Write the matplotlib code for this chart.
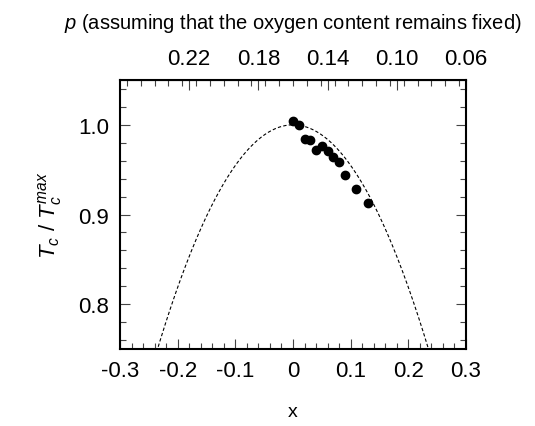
import numpy as np
import matplotlib
matplotlib.use("Agg")
from matplotlib import pyplot as plt
from matplotlib.ticker import MultipleLocator

plt.rcParams['font.family'] = ['Liberation Sans', 'DejaVu Sans']
plt.rcParams['mathtext.fontset'] = 'custom'
plt.rcParams['mathtext.it'] = 'Liberation Sans:italic'
plt.rcParams['mathtext.rm'] = 'Liberation Sans'

# measured points
x_data = [0.0, 0.01, 0.02, 0.03, 0.04, 0.05, 0.06, 0.07, 0.08, 0.09, 0.11, 0.13]
tc_data = [1.004, 1.000, 0.984, 0.983, 0.972, 0.976, 0.971, 0.964, 0.958, 0.944, 0.928, 0.913]

# dashed parabola Tc/Tcmax = 1 - a*x^2
curve_coef = 4.53

top_ticks = [0.22, 0.18, 0.14, 0.10, 0.06]
bottom_ticks = [-0.3, -0.2, -0.1, 0, 0.1, 0.2, 0.3]
bottom_labels = ['-0.3', '-0.2', '-0.1', '0', '0.1', '0.2', '0.3']
y_ticks = [0.8, 0.9, 1.0]


def x_to_p(x):
    return 0.16 - np.asarray(x) / 3.0


def p_to_x(p):
    return 3.0 * (0.16 - np.asarray(p))


fig = plt.figure(figsize=(5.35, 4.27), dpi=100)
ax = fig.add_axes([120 / 535, 1 - 350 / 427, 346 / 535, 269 / 427])

xs = np.linspace(-0.3, 0.3, 400)
ax.plot(xs, 1 - curve_coef * xs ** 2, 'k--', lw=0.8, dashes=(3, 2))
ax.plot(x_data, tc_data, 'o', color='black', ms=6)

ax.set_xlim(-0.3, 0.3)
ax.set_ylim(0.75, 1.05)
ax.set_xticks(bottom_ticks)
ax.set_xticklabels(bottom_labels)
ax.set_yticks(y_ticks)
ax.set_yticklabels(['0.8', '0.9', '1.0'])
ax.xaxis.set_minor_locator(MultipleLocator(0.02))
ax.yaxis.set_minor_locator(MultipleLocator(0.02))
ax.tick_params(which='both', direction='in', right=True, top=False, labelsize=16,
               width=0.8, color='#444444', pad=8)
ax.tick_params(which='major', length=7)
ax.tick_params(which='minor', length=4)
for s in ax.spines.values():
    s.set_linewidth(1.5)

ax.set_xlabel('x', fontsize=14, labelpad=16)
ax.set_ylabel(r'$T_c$ / $T_c^{max}$', fontsize=16, labelpad=10)

top = ax.secondary_xaxis('top', functions=(x_to_p, p_to_x))
top.set_xticks(top_ticks)
top.set_xticklabels(['0.22', '0.18', '0.14', '0.10', '0.06'])
top.xaxis.set_minor_locator(MultipleLocator(0.008))
top.tick_params(which='both', direction='in', labelsize=16, width=0.8,
                color='#444444', pad=8)
top.tick_params(which='major', length=7)
top.tick_params(which='minor', length=4)
top.set_xlabel(r'$p$ (assuming that the oxygen content remains fixed)', fontsize=14.5,
               labelpad=14)

fig.savefig('out.png', dpi=100)
